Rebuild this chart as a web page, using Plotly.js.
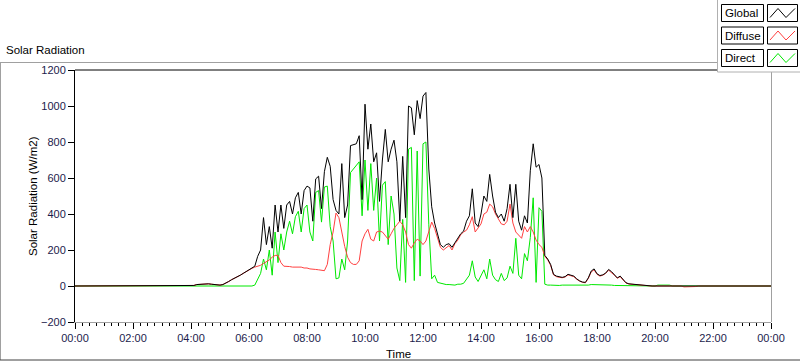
<!DOCTYPE html>
<html><head><meta charset="utf-8">
<script src="https://cdn.plot.ly/plotly-3.0.1.min.js"></script>
<style>html,body{margin:0;padding:0;background:#fff;}#chart{width:800px;height:361px;}</style>
</head><body><div id="chart"></div>
<script>
// time axis: samples every 6 minutes from 00:00 to 24:00
const startTime = '2024-01-01 00:00:00';
const stepMs = 360000;
const seriesNames = ['Global', 'Diffuse', 'Direct'];

const globalW = [
  0,0,0,0,0,0,0,0,0,0, 0,0,0,0,0,0,0,0,0,0, 0,0,0,0,0,0,0,0,0,0, 0,0,0,0,0,0,0,0,0,0,
  0,3,8,10,12,12,12,10,8,5,
  5,8,15,25,35,42,52,60,70,80,
  90,100,110,165,200,380,230,330,210,450,
  300,450,320,450,470,400,490,520,400,530,
  555,545,360,595,610,430,635,715,665,480,
  420,400,680,380,450,780,785,790,835,480,
  1010,760,900,690,740,470,700,870,690,760,
  810,690,360,720,380,1000,990,840,1030,930,
  1055,1075,650,440,350,290,230,215,230,235,
  215,240,265,290,305,360,390,540,350,330,
  400,500,470,620,500,410,380,400,360,430,
  565,380,565,360,310,390,350,640,790,660,
  675,600,170,150,120,65,55,50,48,52,
  65,60,55,40,28,22,20,45,83,95,
  68,58,62,72,92,80,62,45,55,35,
  18,12,10,8,6,4,3,2,1,0,
  0,0,0,0,0,0,0,0,0,0, 0,0,0,0,0,0,0,0,0,0, 0,0,0,0,0,0,0,0,0,0, 0,0,0,0,0,0,0,0,0,0, 0
];

const diffuseW = [
  0,0,0,0,0,0,0,0,0,0, 0,0,0,0,0,0,0,0,0,0, 0,0,0,0,0,0,0,0,0,0, 0,0,0,0,0,0,0,0,0,0,
  0,3,8,10,12,12,12,10,8,5,
  5,8,15,25,35,42,52,60,70,80,
  90,98,105,110,115,125,135,145,160,170,
  170,130,110,110,108,105,105,105,105,100,
  100,95,95,92,90,88,85,120,230,300,
  405,380,290,220,160,130,120,120,140,250,
  290,315,260,250,300,305,300,280,260,290,
  320,340,360,340,300,230,210,240,260,250,
  230,250,310,355,320,260,215,200,215,225,
  200,235,255,285,300,310,340,385,300,320,
  345,400,410,455,440,400,370,345,340,360,
  455,350,300,280,265,330,300,330,300,255,
  230,215,165,145,115,62,52,48,46,50,
  62,57,52,37,26,20,18,42,78,90,
  65,55,60,70,88,76,60,43,52,33,
  17,11,9,8,6,4,4,3,1,0,
  0,0,0,0,0,0,0,0,0,0,
  -5,-5,-5,-5,-3,0,0,0,-4,0,
  0,0,0,0,0,0,0,0,0,0, 0,0,0,0,0,0,0,0,0,0, 0
];

const directW = [
  0,0,0,0,0,0,0,0,0,0, 0,0,0,0,0,0,0,0,0,0, 0,0,0,0,0,0,0,0,0,0, 0,0,0,0,0,0,0,0,0,4,
  4,0,0,0,0,0,0,0,0,0,
  0,0,0,0,0,0,0,0,0,0,
  0,0,5,40,70,150,90,200,60,300,
  130,290,200,300,360,290,385,415,300,430,
  450,300,250,520,530,355,550,555,330,250,
  40,45,150,90,250,630,650,670,690,390,
  700,420,680,420,600,250,560,580,230,500,
  400,100,30,370,20,760,770,30,750,55,
  790,800,340,40,60,20,15,10,8,8,
  5,5,10,10,15,40,60,140,50,25,
  60,90,40,150,60,35,25,70,30,45,
  110,70,265,60,40,180,140,270,490,20,
  435,415,10,5,5,3,3,3,5,5,
  5,5,5,5,3,3,3,5,8,8,
  5,5,5,5,5,5,3,3,3,2,
  2,1,1,0,0,0,0,0,0,0,
  0,5,5,5,5,5,0,0,0,0,
  0,0,0,0,0,0,0,0,0,0, 0,0,0,0,0,0,0,0,0,0, 0,0,0,0,0,0,0,0,0,0, 0
];

const yTickVals = [-200, 0, 200, 400, 600, 800, 1000, 1200];

// pixel -> paper helpers (layout only)
const L = 75, T = 70, W = 696, H = 252;
const px = p => (p - L) / W;
const py = p => (T + H - p) / H;

const colors = {Global: '#000000', Diffuse: '#ff4040', Direct: '#00e800'};
const mk = (y, name) => ({
  type: 'scatter', mode: 'lines', name: name, x0: startTime, dx: stepMs, y: y,
  line: {color: colors[name], width: 1}, hoverinfo: 'skip'
});
const data = [mk(directW, 'Direct'), mk(diffuseW, 'Diffuse'), mk(globalW, 'Global')];

const shapes = [];
const annotations = [];
const line = (x0, y0, x1, y1, c, w) => shapes.push({type: 'line', xref: 'paper', yref: 'paper',
  x0: px(x0), y0: py(y0), x1: px(x1), y1: py(y1), line: {color: c, width: w || 1}});
const rect = (x0, y0, x1, y1, c, fill) => shapes.push({type: 'rect', xref: 'paper', yref: 'paper',
  x0: px(x0), y0: py(y0), x1: px(x1), y1: py(y1), line: {color: c, width: 1}, fillcolor: fill});

// widget frame
line(0, 62.5, 717, 62.5, '#a0a0a0');
line(0.5, 62, 0.5, 360, '#a0a0a0');
line(0, 360, 800, 360, '#404040');
// plot frame
line(75, 70, 771.5, 70, '#000000');
line(771.5, 70, 771.5, 322, '#a0a0a0');

// legend panel
rect(717.5, -2, 802, 72, '#b0b0b0', '#ffffff');
const rowTop = [4.5, 27, 49.5];
seriesNames.forEach((n, i) => {
  const t = rowTop[i];
  rect(721.5, t, 763.5, t + 17, '#000000', '#ffffff');
  rect(767.5, t, 797.5, t + 17, '#000000', '#ffffff');
  const pts = [[770, t + 13], [778, t + 4], [786, t + 13], [795, t + 4]];
  shapes.push({type: 'path', xref: 'paper', yref: 'paper',
    path: 'M ' + pts.map(p => px(p[0]) + ',' + py(p[1])).join(' L '),
    line: {color: colors[n], width: 1}});
  annotations.push({xref: 'paper', yref: 'paper', x: px(723), y: py(t + 8.5), xanchor: 'left', yanchor: 'middle',
    text: n, showarrow: false, font: {family: 'Liberation Sans, Arial, sans-serif', size: 11.5, color: '#000'}});
});

annotations.push({xref: 'paper', yref: 'paper', x: px(4), y: py(50), xanchor: 'left', yanchor: 'middle',
  text: 'Solar Radiation', showarrow: false, font: {family: 'Liberation Sans, Arial, sans-serif', size: 11.5, color: '#000'}});
annotations.push({xref: 'paper', yref: 'paper', x: px(33), y: py(196), xanchor: 'center', yanchor: 'middle', textangle: -90,
  text: 'Solar Radiation (W/m2)', showarrow: false, font: {family: 'Liberation Sans, Arial, sans-serif', size: 11.5, color: '#000'}});
annotations.push({xref: 'paper', yref: 'paper', x: px(398), y: py(354), xanchor: 'center', yanchor: 'middle',
  text: 'Time', showarrow: false, font: {family: 'Liberation Sans, Arial, sans-serif', size: 11.5, color: '#000'}});

const tickFont = {family: 'Liberation Sans, Arial, sans-serif', size: 11, color: '#1c1c4c'};
const layout = {
  width: 800, height: 361,
  margin: {l: 75, r: 28.5, t: 70, b: 39, pad: 0},
  paper_bgcolor: '#ffffff', plot_bgcolor: '#ffffff',
  showlegend: false,
  xaxis: {
    type: 'date', range: ['2024-01-01 00:00:00', '2024-01-02 00:00:00'],
    tick0: '2024-01-01 00:00:00', dtick: 7200000, tickformat: '%H:%M',
    ticks: 'outside', ticklen: 6, tickcolor: '#000', tickwidth: 1,
    minor: {dtick: 900000, ticks: 'outside', ticklen: 3, tickcolor: '#000', showgrid: false},
    showgrid: false, zeroline: false, showline: true, linecolor: '#a0a0a0', linewidth: 1,
    tickfont: tickFont, fixedrange: true
  },
  yaxis: {
    range: [-200, 1200], tickvals: yTickVals, ticks: 'outside', ticklen: 6, tickcolor: '#000',
    showgrid: false, zeroline: false, showline: true, linecolor: '#000', linewidth: 1,
    tickfont: tickFont, fixedrange: true
  },
  shapes: shapes, annotations: annotations
};
Plotly.newPlot('chart', data, layout, {staticPlot: true, displayModeBar: false});
</script></body></html>
